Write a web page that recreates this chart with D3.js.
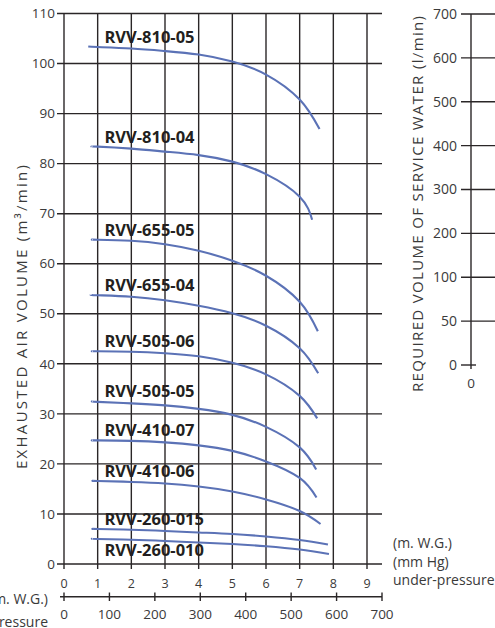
<!DOCTYPE html>
<html>
<head>
<meta charset="utf-8">
<script src="https://cdn.jsdelivr.net/npm/d3@7"></script>
<style>
  html, body { margin: 0; padding: 0; background: #fff; overflow: hidden; }
  svg { display: block; }
  text { font-family: "Open Sans", "DejaVu Sans", sans-serif; fill: #3a3a3a; }
</style>
</head>
<body>
<svg id="chart" width="495" height="628"></svg>
<script>
// ---------- data ----------
const pressureTicks = [0, 1, 2, 3, 4, 5, 6, 7, 8, 9];            // m W.G.
const mmHgTicks = [0, 100, 200, 300, 400, 500, 600, 700];         // mm Hg
const airTicks = [0, 10, 20, 30, 40, 50, 60, 70, 80, 90, 100, 110]; // m³/min
const waterTicks = ["0", "50", "100", "200", "300", "400", "500", "600", "700"]; // l/min

const models = ["RVV-810-05", "RVV-810-04", "RVV-655-05", "RVV-655-04", "RVV-505-06",
                "RVV-505-05", "RVV-410-07", "RVV-410-06", "RVV-260-015", "RVV-260-010"];
const labelSide = ["above", "above", "above", "above", "above",
                   "above", "above", "above", "above", "below"];

// [under-pressure (m W.G.), exhausted air volume (m³/min)]
const rvv810_05 = [[0.72,103.4],[1,103.3],[2,103.0],[3,102.5],[4,101.8],[5,100.4],[6,97.8],[7,92.8],[7.59,86.9]];
const rvv810_04 = [[0.82,83.4],[1,83.4],[2,83.0],[3,82.4],[4,81.7],[5,80.4],[6,77.9],[7,73.4],[7.37,68.8]];
const rvv655_05 = [[0.84,64.8],[1,64.8],[2,64.6],[3,63.9],[4,62.6],[5,60.6],[6,57.6],[7,52.4],[7.54,46.5]];
const rvv655_04 = [[0.79,53.8],[1,53.7],[2,53.4],[3,52.7],[4,51.6],[5,50.1],[6,47.6],[7,43.1],[7.55,38.1]];
const rvv505_06 = [[0.84,42.5],[1,42.5],[2,42.4],[3,42.1],[4,41.5],[5,40.2],[6,37.9],[7,33.6],[7.52,29.1]];
const rvv505_05 = [[0.84,32.5],[1,32.4],[2,32.1],[3,31.7],[4,31.0],[5,29.8],[6,27.4],[7,23.3],[7.49,18.9]];
const rvv410_07 = [[0.84,24.7],[1,24.7],[2,24.6],[3,24.3],[4,23.7],[5,22.6],[6,20.5],[7,17.2],[7.5,13.3]];
const rvv410_06 = [[0.87,16.6],[1,16.6],[2,16.4],[3,16.1],[4,15.5],[5,14.5],[6,12.9],[7,10.6],[7.62,8.0]];
const rvv260_015 = [[0.87,7.0],[1,7.0],[2,6.85],[3,6.6],[4,6.3],[5,6.0],[6,5.5],[7,4.8],[7.84,3.9]];
const rvv260_010 = [[0.84,5.05],[1,5.0],[2,4.85],[3,4.6],[4,4.3],[5,4.0],[6,3.55],[7,2.9],[7.87,2.0]];
const seriesData = [rvv810_05, rvv810_04, rvv655_05, rvv655_04, rvv505_06,
                    rvv505_05, rvv410_07, rvv410_06, rvv260_015, rvv260_010];
const labelAt = 1.2; // m W.G. where curve labels start

// ---------- drawing ----------
const svg = d3.select("#chart");
const INK = "#2a2627";
const BLUE = "#5b72b6";

const x = d3.scaleLinear().domain([0, 9]).range([64, 367]);
const xHg = d3.scaleLinear().domain([0, 700]).range([64, 382]);
const y = d3.scaleLinear().domain([0, 110]).range([564, 13.5]);
const yW = d3.scalePoint().domain(waterTicks).range([365, 14]);

const grid = svg.append("g").attr("stroke", INK).attr("stroke-width", 1.4).attr("fill", "none");

grid.selectAll("line.h").data(airTicks).join("line")
  .attr("class", "h")
  .attr("x1", 57).attr("x2", xHg(700))
  .attr("y1", d => y(d)).attr("y2", d => y(d));

grid.selectAll("line.v").data(pressureTicks).join("line")
  .attr("class", "v")
  .attr("x1", d => x(d)).attr("x2", d => x(d))
  .attr("y1", y(110)).attr("y2", y(0) + 5);

svg.append("g").selectAll("text").data(airTicks).join("text")
  .attr("x", 55).attr("y", d => y(d)).attr("dy", "0.35em")
  .attr("text-anchor", "end").attr("font-size", 13.5)
  .text(d => d);

svg.append("g").selectAll("text").data(pressureTicks).join("text")
  .attr("x", d => x(d)).attr("y", 588)
  .attr("text-anchor", "middle").attr("font-size", 12.5)
  .text(d => d);

const hgAxis = svg.append("g").attr("stroke", INK).attr("stroke-width", 1.4);
hgAxis.append("line").attr("x1", 60).attr("x2", xHg(700)).attr("y1", 596.7).attr("y2", 596.7);
hgAxis.selectAll("line.t").data(mmHgTicks).join("line")
  .attr("class", "t")
  .attr("x1", d => xHg(d)).attr("x2", d => xHg(d)).attr("y1", 592.5).attr("y2", 601);
svg.append("g").selectAll("text").data(mmHgTicks).join("text")
  .attr("x", d => xHg(d)).attr("y", 619)
  .attr("text-anchor", "middle").attr("font-size", 13.5)
  .text(d => d);

const line = d3.line().x(d => x(d[0])).y(d => y(d[1])).curve(d3.curveNatural);
svg.append("g").selectAll("path").data(seriesData).join("path")
  .attr("d", line)
  .attr("fill", "none").attr("stroke", BLUE).attr("stroke-width", 2.1)
  .attr("stroke-linecap", "butt");

svg.append("g").selectAll("text").data(models).join("text")
  .attr("x", x(labelAt))
  .attr("y", (d, i) => y(seriesData[i][0][1]) + (labelSide[i] === "above" ? -4 : 17.5))
  .attr("font-size", 16.5).attr("font-weight", "bold")
  .style("fill", "#231f20")
  .text(d => d);

svg.append("text")
  .attr("transform", "translate(27,317) rotate(-90)")
  .attr("text-anchor", "middle").attr("font-size", 15)
  .attr("textLength", 304).attr("lengthAdjust", "spacing")
  .text("EXHAUSTED  AIR  VOLUME  (m³/min)");

const unitLines = ["(m.  W.G.)", "(mm  Hg)", "under-pressure"];
svg.append("g").selectAll("text").data(unitLines).join("text")
  .attr("x", 393).attr("y", (d, i) => 548 + i * 18.5)
  .attr("font-size", 14)
  .text(d => d);
svg.append("g").selectAll("text").data([unitLines[0], unitLines[2]]).join("text")
  .attr("x", 48).attr("y", (d, i) => 604 + i * 22.5)
  .attr("text-anchor", "end")
  .attr("font-size", 14)
  .text(d => d);

const wAxis = svg.append("g").attr("stroke", INK).attr("stroke-width", 1.4);
wAxis.append("line").attr("x1", 471).attr("x2", 471).attr("y1", yW("700")).attr("y2", yW("0") + 4);
wAxis.selectAll("line.t").data(waterTicks).join("line")
  .attr("class", "t")
  .attr("x1", 461).attr("x2", d => d === "0" ? 476 : 495)
  .attr("y1", d => yW(d)).attr("y2", d => yW(d));
svg.append("g").selectAll("text").data(waterTicks).join("text")
  .attr("x", 457).attr("y", d => yW(d)).attr("dy", "0.35em")
  .attr("text-anchor", "end").attr("font-size", 14)
  .text(d => d);
svg.append("text").attr("x", 471).attr("y", 388)
  .attr("text-anchor", "middle").attr("font-size", 13.5).text("0");
svg.append("text")
  .attr("transform", "translate(423,204) rotate(-90)")
  .attr("text-anchor", "middle").attr("font-size", 15)
  .attr("textLength", 376).attr("lengthAdjust", "spacing")
  .text("REQUIRED  VOLUME  OF  SERVICE  WATER  (l/min)");
</script>
</body>
</html>
